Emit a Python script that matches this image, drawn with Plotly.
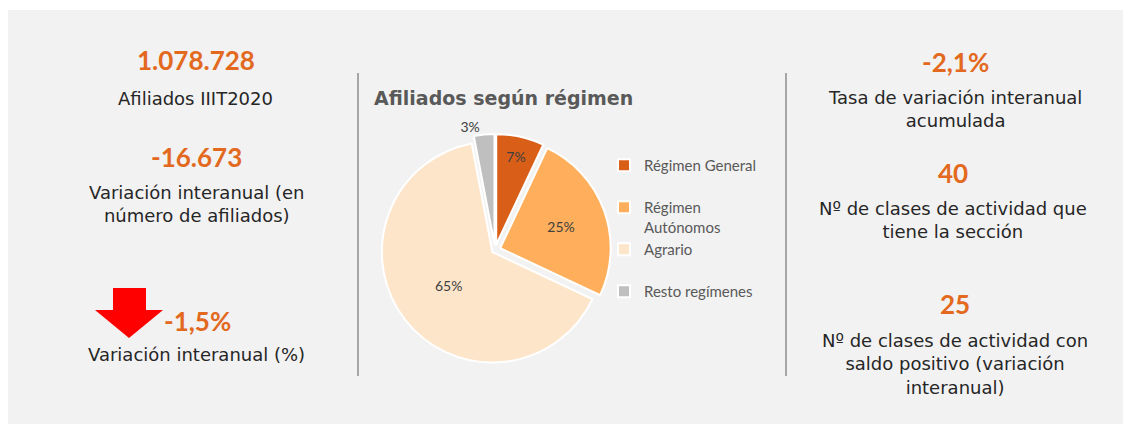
import plotly.graph_objects as go

W, H = 1131, 432
OFF = 8  # page body margin offset

# ---- data ----
regimen_labels = ["Régimen General<br>&nbsp;", "Régimen<br>Autónomos", "Agrario<br>&nbsp;", "Resto regímenes"]
regimen_share = [7, 25, 65, 3]
regimen_colors = ["#D95F18", "#FFAF5B", "#FDE5CA", "#BFBFBF"]

kpi_left_values = ["1.078.728", "-16.673", "-1,5%"]
kpi_left_labels = ["Afiliados IIIT2020", "Variación interanual (en<br>número de afiliados)", "Variación interanual (%)"]
kpi_right_values = ["-2,1%", "40", "25"]
kpi_right_labels = ["Tasa de variación interanual<br>acumulada",
                    "Nº de clases de actividad que<br>tiene la sección",
                    "Nº de clases de actividad con<br>saldo positivo (variación<br>interanual)"]

ORANGE = "#E2691E"
LABEL_FONT = "DejaVu Sans"
NUM_FONT = "Lato"


def px(x):
    return (x - OFF) / W


def py(y):
    return 1 - (y - OFF) / H


cx, cy, R = 495, 250, 116

fig = go.Figure(go.Pie(
    labels=regimen_labels,
    values=regimen_share,
    sort=False,
    direction="clockwise",
    rotation=0,
    marker=dict(colors=regimen_colors, line=dict(color="white", width=2)),
    pull=[0.05, 0.05, 0.03, 0.05],
    texttemplate="%{percent:.0%}",
    textposition=["inside", "inside", "inside", "outside"],
    textfont=dict(family="Lato", size=14, color="#404040"),
    insidetextorientation="horizontal",
    domain=dict(x=[px(cx - R), px(cx + R)], y=[py(cy + R), py(cy - R)]),
    hoverinfo="label+percent",
))

shapes = [
    dict(type="rect", xref="paper", yref="paper", x0=px(8), x1=px(1123), y0=py(424), y1=py(10),
         fillcolor="#F2F2F2", line=dict(width=0), layer="below"),
    dict(type="line", xref="paper", yref="paper", x0=px(358), x1=px(358), y0=py(376), y1=py(73),
         line=dict(color="#A6A6A6", width=2)),
    dict(type="line", xref="paper", yref="paper", x0=px(786), x1=px(786), y0=py(376), y1=py(73),
         line=dict(color="#A6A6A6", width=2)),
]
# red down arrow
arrow_pts = [(113, 288), (146, 288), (146, 310), (163, 310), (129, 338), (95, 310), (113, 310)]
path = "M " + " L ".join(f"{px(x)},{py(y)}" for x, y in arrow_pts) + " Z"
shapes.append(dict(type="path", xref="paper", yref="paper", path=path,
                   fillcolor="#FF0000", line=dict(width=0)))

annotations = []


def add_text(x, y, text, size, color, family, bold=False, xanchor="center"):
    annotations.append(dict(x=px(x), y=py(y), xref="paper", yref="paper", text=(f"<b>{text}</b>" if bold else text),
                            showarrow=False, xanchor=xanchor, yanchor="middle", align="center",
                            font=dict(size=size, color=color, family=family)))


# left column
add_text(196, 60, kpi_left_values[0], 26, ORANGE, NUM_FONT, True)
add_text(195, 98, kpi_left_labels[0], 18, "#262626", LABEL_FONT)
add_text(196, 157, kpi_left_values[1], 26, ORANGE, NUM_FONT, True)
add_text(196, 204, kpi_left_labels[1], 18, "#262626", LABEL_FONT)
add_text(197, 321, kpi_left_values[2], 26, ORANGE, NUM_FONT, True)
add_text(196, 354, kpi_left_labels[2], 18, "#262626", LABEL_FONT)

# right column
add_text(955, 62, kpi_right_values[0], 26, ORANGE, NUM_FONT, True)
add_text(955, 109, kpi_right_labels[0], 18, "#262626", LABEL_FONT)
add_text(953, 173, kpi_right_values[1], 26, ORANGE, NUM_FONT, True)
add_text(953, 220, kpi_right_labels[1], 18, "#262626", LABEL_FONT)
add_text(955, 304, kpi_right_values[2], 26, ORANGE, NUM_FONT, True)
add_text(955, 364, kpi_right_labels[2], 18, "#262626", LABEL_FONT)

# chart title
add_text(372, 98, "Afiliados según régimen", 19, "#595959", "DejaVu Sans", True, xanchor="left")

fig.update_layout(
    width=W, height=H,
    margin=dict(l=0, r=0, t=0, b=0),
    paper_bgcolor="white",
    plot_bgcolor="white",
    shapes=shapes,
    annotations=annotations,
    showlegend=True,
    legend=dict(x=px(604), y=py(149), xanchor="left", yanchor="top",
                font=dict(family="Lato", size=15, color="#595959"),
                valign="top", bgcolor="rgba(0,0,0,0)", itemwidth=30,
                traceorder="normal"),
)

fig.write_html("out.html")
